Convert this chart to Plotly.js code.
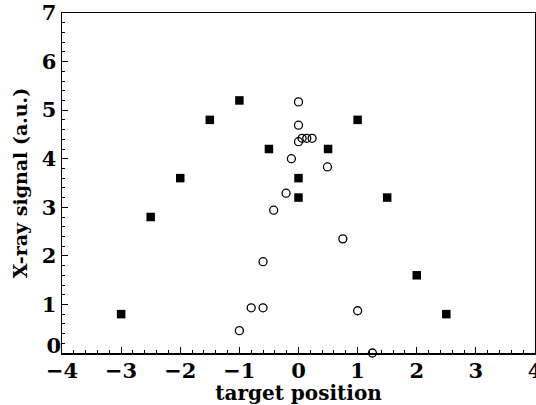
<!DOCTYPE html>
<html><head><meta charset="utf-8">
<script src="https://cdn.plot.ly/plotly-3.0.1.min.js"></script>
<style>html,body{margin:0;padding:0;background:#fff}#c{width:536px;height:405px}</style>
</head><body><div id="c"></div>
<script>
// filled squares
const sqX = [-3, -2.5, -2, -1.5, -1, -0.5, 0, 0, 0.5, 1, 1.5, 2, 2.5];
const sqY = [0.8, 2.8, 3.6, 4.8, 5.2, 4.2, 3.6, 3.2, 4.2, 4.8, 3.2, 1.6, 0.8];
// open circles
const ciX = [-1, -0.8, -0.6, -0.6, -0.42, -0.21, -0.12, 0, 0, 0, 0.06, 0.14, 0.23, 0.49, 0.75, 1, 1.25];
const ciY = [0.46, 0.93, 0.93, 1.88, 2.94, 3.29, 4.0, 4.35, 4.69, 5.17, 4.42, 4.42, 4.42, 3.83, 2.35, 0.87, 0.0];
const xTicks = [-4, -3, -2, -1, 0, 1, 2, 3, 4];
const yTicks = [1, 2, 3, 4, 5, 6, 7];
const yTickZero = [0];

const font = {family: 'DejaVu Serif, serif', color: '#000', weight: 'bold'};
const data = [
  {x: sqX, y: sqY, type: 'scatter', mode: 'markers', cliponaxis: false,
   marker: {symbol: 'square', size: 8.5, color: '#000'}},
  {x: ciX, y: ciY, type: 'scatter', mode: 'markers', cliponaxis: false,
   marker: {symbol: 'circle-open', size: 8, color: '#000', line: {width: 1.3}}},
  {x: [], y: [], type: 'scatter', mode: 'markers', yaxis: 'y2', hoverinfo: 'skip'}
];
const axBase = {
  showgrid: false, zeroline: false, showline: true, mirror: true,
  linecolor: '#000', linewidth: 1.5, ticks: 'inside', ticklen: 6, tickwidth: 1.2, tickcolor: '#000',
  tickfont: Object.assign({size: 21}, font), ticklabeloverflow: 'allow'
};
const layout = {
  width: 536, height: 405, showlegend: false,
  paper_bgcolor: '#fff', plot_bgcolor: '#fff',
  margin: {l: 62, r: 1, t: 13, b: 52},
  xaxis: Object.assign({}, axBase, {
    range: [-4, 4], tickvals: xTicks, ticktext: xTicks.map(v => v < 0 ? '\u2212' + (-v) : String(v)),
    ticklabelstandoff: -2,
    minor: {dtick: 0.2, ticks: 'inside', ticklen: 3, tickwidth: 1, tickcolor: '#000'},
    title: {text: 'target position', font: Object.assign({size: 20}, font), standoff: 0}
  }),
  yaxis: Object.assign({}, axBase, {
    range: [0, 7], tickvals: yTicks, ticktext: yTicks.map(String),
    minor: {dtick: 0.2, ticks: 'inside', ticklen: 3, tickwidth: 1, tickcolor: '#000'},
    title: {text: 'X-ray signal (a.u.)', font: Object.assign({size: 19}, font), standoff: 9}
  }),
  yaxis2: {
    overlaying: 'y', side: 'left', anchor: 'x', range: [0, 7],
    showgrid: false, zeroline: false, showline: false, ticks: '',
    tickvals: yTickZero, ticktext: yTickZero.map(String), ticklabelshift: -7,
    tickfont: Object.assign({size: 21}, font)
  }
};
Plotly.newPlot('c', data, layout, {staticPlot: true});
</script></body></html>
